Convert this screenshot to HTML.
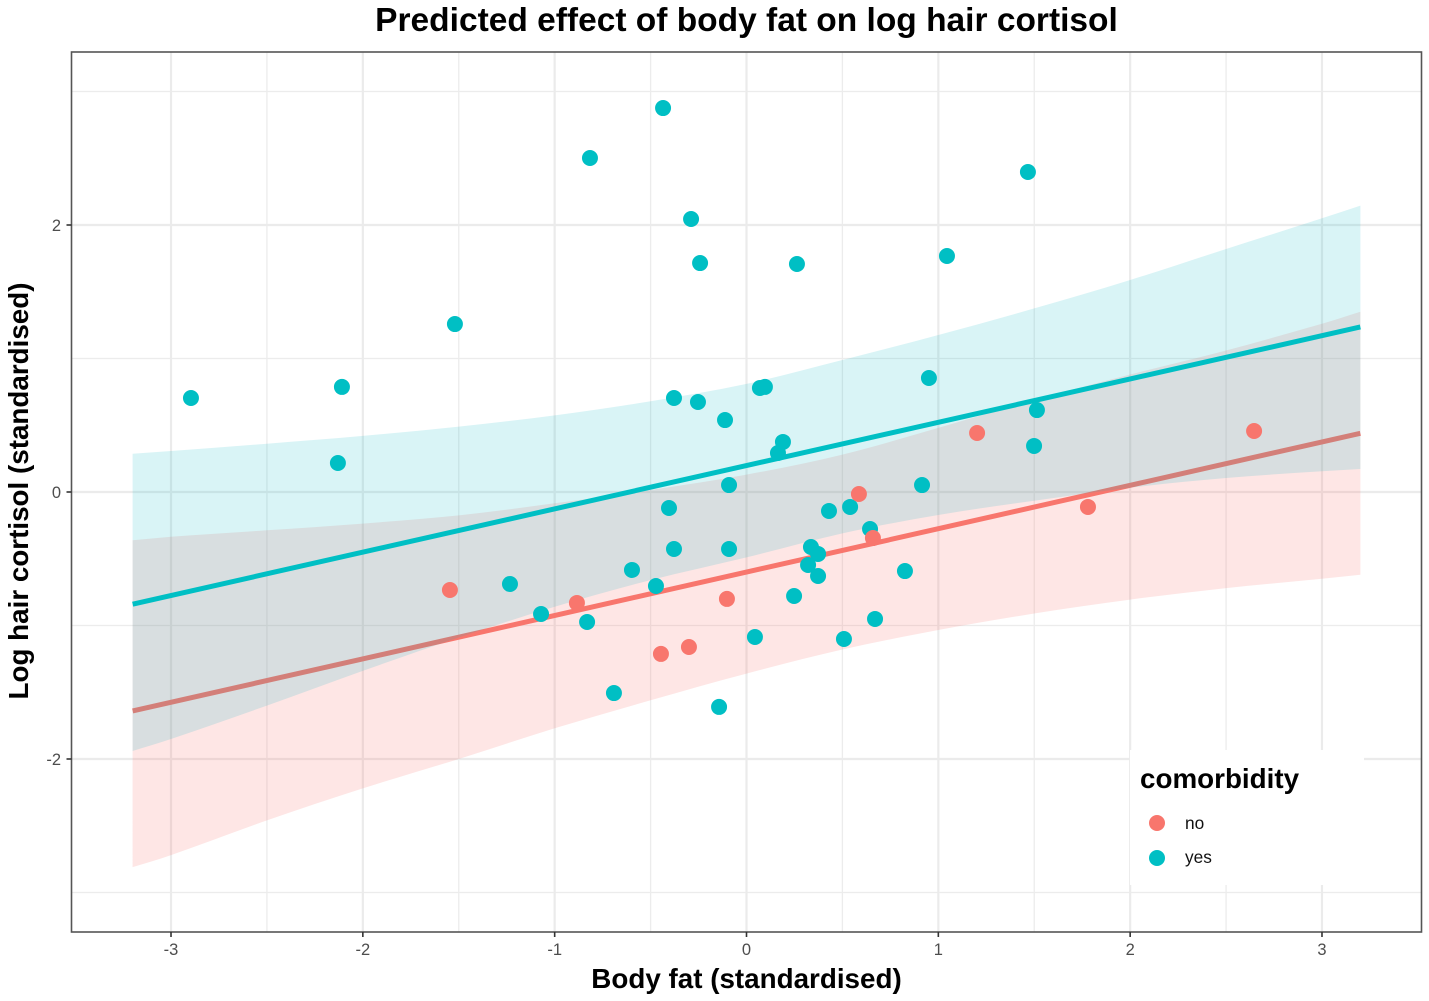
<!DOCTYPE html>
<html lang="en">
<head>
<meta charset="utf-8">
<title>Predicted effect of body fat on log hair cortisol</title>
<style>
html,body{margin:0;padding:0;background:#fff;}
svg{display:block;font-family:"Liberation Sans",sans-serif;}
</style>
</head>
<body>
<svg id="chart" xmlns="http://www.w3.org/2000/svg" width="1429" height="1001" viewBox="0 0 1429 1001">
  <rect x="0" y="0" width="1429" height="1001" fill="#ffffff"/>
  <g id="grid"></g>
  <g id="ribbons"></g>
  <g id="points"></g>
  <rect x="71.5" y="52" width="1350" height="880" fill="none" stroke="#555555" stroke-width="1.6"/>
  <g id="axes"></g>
  <text x="746.5" y="31" text-anchor="middle" font-size="33.5" font-weight="700" fill="#000">Predicted effect of body fat on log hair cortisol</text>
  <text x="746.5" y="988" text-anchor="middle" font-size="27.8" font-weight="700" fill="#000">Body fat (standardised)</text>
  <text transform="translate(28,491) rotate(-90)" text-anchor="middle" font-size="27.8" font-weight="700" fill="#000">Log hair cortisol (standardised)</text>
  <g>
    <rect x="1130" y="750" width="234" height="135" fill="#ffffff"/>
    <text x="1140" y="788" font-size="27.8" font-weight="700" fill="#000">comorbidity</text>
    <circle cx="1157" cy="823" r="8" fill="#F8766D"/>
    <text x="1185" y="829" font-size="17.3" fill="#111">no</text>
    <circle cx="1157" cy="858" r="8" fill="#00BFC4"/>
    <text x="1185" y="863" font-size="17.3" fill="#111">yes</text>
  </g>
</svg>
<script>
const xTicks = [-3, -2, -1, 0, 1, 2, 3];
const yTicks = [-2, 0, 2];
const xMinorTicks = [-2.5, -1.5, -0.5, 0.5, 1.5, 2.5];
const yMinorTicks = [-3, -1, 1, 3];

const bandX = [-3.2, -3, -2.5, -2, -1.5, -1, -0.5, 0, 0.5, 1, 1.5, 2, 2.5, 3, 3.2];
const yesUpper = [0.287, 0.307, 0.362, 0.42, 0.49, 0.574, 0.68, 0.81, 0.989, 1.176, 1.375, 1.588, 1.82, 2.05, 2.145];
const yesLower = [-1.94, -1.85, -1.6, -1.34, -1.09, -0.86, -0.66, -0.49, -0.31, -0.172, -0.065, 0.032, 0.105, 0.155, 0.172];
const noUpper = [-0.362, -0.335, -0.287, -0.237, -0.175, -0.085, 0.015, 0.13, 0.28, 0.48, 0.69, 0.88, 1.06, 1.26, 1.35];
const noLower = [-2.81, -2.72, -2.46, -2.22, -2.0, -1.77, -1.56, -1.36, -1.18, -1.034, -0.91, -0.806, -0.72, -0.65, -0.62];

const lineX = [-3.2, 3.2];
const yesLine = [-0.84, 1.236];
const noLine = [-1.64, 0.44];

const yesX = [-2.896, -2.109, -2.13, -1.52, -0.816, -0.435, -0.289, -0.242, 0.263, 1.045, 1.467, -0.378, -0.253, -0.112, 0.07, 0.096, 0.951, 1.514, 1.499, 0.19, 0.164, -0.091, 0.915, -0.404, 0.43, 0.54, 0.644, 0.336, 0.373, 0.321, 0.373, 0.826, -0.378, -0.091, -0.597, -1.233, -0.472, -1.071, -0.831, 0.248, 0.67, 0.044, 0.508, -0.691, -0.143];
const yesY = [0.704, 0.787, 0.217, 1.258, 2.502, 2.876, 2.045, 1.715, 1.708, 1.768, 2.397, 0.704, 0.674, 0.539, 0.779, 0.787, 0.854, 0.614, 0.345, 0.375, 0.292, 0.052, 0.052, -0.12, -0.142, -0.112, -0.277, -0.412, -0.464, -0.547, -0.629, -0.592, -0.427, -0.427, -0.584, -0.689, -0.704, -0.914, -0.974, -0.779, -0.951, -1.086, -1.101, -1.506, -1.61];
const noX = [-1.546, -0.884, -0.102, -0.446, -0.3, 0.586, 0.659, 1.202, 1.78, 2.646];
const noY = [-0.734, -0.831, -0.801, -1.213, -1.161, -0.015, -0.345, 0.442, -0.112, 0.457];

const SVG_NS = 'http://www.w3.org/2000/svg';
const panel = { left: 71.5, right: 1421.5, top: 52, bottom: 932 };
function xScale(v) { return 746.5 + v * 191.83; }
function yScale(v) { return 492 - v * 133.5; }
function make(tag, parent, attrs) {
  const el = document.createElementNS(SVG_NS, tag);
  Object.keys(attrs).forEach(function (k) { el.setAttribute(k, attrs[k]); });
  parent.appendChild(el);
  return el;
}
function curveSegments(xs, ys) {
  const px = xs.map(xScale);
  const py = ys.map(yScale);
  const n = px.length;
  const slope = px.map(function (_, i) {
    const a = Math.max(0, i - 1);
    const b = Math.min(n - 1, i + 1);
    return (py[b] - py[a]) / (px[b] - px[a]);
  });
  let d = '';
  for (let i = 0; i < n - 1; i++) {
    const h = (px[i + 1] - px[i]) / 3;
    d += 'C' + (px[i] + h).toFixed(1) + ' ' + (py[i] + slope[i] * h).toFixed(1) + ' ' +
      (px[i + 1] - h).toFixed(1) + ' ' + (py[i + 1] - slope[i + 1] * h).toFixed(1) + ' ' +
      px[i + 1].toFixed(1) + ' ' + py[i + 1].toFixed(1);
  }
  return d;
}
function bandPath(upper, lower) {
  const xsBack = bandX.slice().reverse();
  const lowerBack = lower.slice().reverse();
  return 'M' + xScale(bandX[0]).toFixed(1) + ' ' + yScale(upper[0]).toFixed(1) +
    curveSegments(bandX, upper) +
    'L' + xScale(xsBack[0]).toFixed(1) + ' ' + yScale(lowerBack[0]).toFixed(1) +
    curveSegments(xsBack, lowerBack) + 'Z';
}

const gridG = document.getElementById('grid');
const ribbonG = document.getElementById('ribbons');
const pointG = document.getElementById('points');
const axesG = document.getElementById('axes');

xMinorTicks.forEach(function (v) {
  const el = make('line', gridG, { x1: xScale(v), x2: xScale(v), y1: panel.top, y2: panel.bottom, stroke: '#ececec', 'stroke-width': 1.3 });
  
  
});
yMinorTicks.forEach(function (v) {
  const el = make('line', gridG, { x1: panel.left, x2: panel.right, y1: yScale(v), y2: yScale(v), stroke: '#ececec', 'stroke-width': 1.3 });
  
  
});
xTicks.forEach(function (v) {
  const el = make('line', gridG, { x1: xScale(v), x2: xScale(v), y1: panel.top, y2: panel.bottom, stroke: '#ebebeb', 'stroke-width': 2.2 });
  
  
  const tick = make('line', axesG, { x1: xScale(v), x2: xScale(v), y1: panel.bottom, y2: panel.bottom + 5, stroke: '#333333', 'stroke-width': 1.6 });
  
  
  const label = make('text', axesG, { x: xScale(v), y: 955, 'text-anchor': 'middle', 'font-size': 16.5, fill: '#4d4d4d' });
  
  
  label.textContent = String(v);
});
yTicks.forEach(function (v) {
  const el = make('line', gridG, { x1: panel.left, x2: panel.right, y1: yScale(v), y2: yScale(v), stroke: '#ebebeb', 'stroke-width': 2.2 });
  
  
  const tick = make('line', axesG, { x1: panel.left - 5, x2: panel.left, y1: yScale(v), y2: yScale(v), stroke: '#333333', 'stroke-width': 1.6 });
  
  
  const label = make('text', axesG, { x: 61, y: yScale(v) + 6, 'text-anchor': 'end', 'font-size': 16.5, fill: '#4d4d4d' });
  
  
  label.textContent = String(v);
});

const noBand = make('path', ribbonG, { d: bandPath(noUpper, noLower), fill: '#F8766D', 'fill-opacity': 0.18 });



const noTrend = make('line', ribbonG, { x1: xScale(lineX[0]), y1: yScale(noLine[0]), x2: xScale(lineX[1]), y2: yScale(noLine[1]), stroke: '#F8766D', 'stroke-width': 5 });



const yesBand = make('path', ribbonG, { d: bandPath(yesUpper, yesLower), fill: '#00B4C4', 'fill-opacity': 0.15 });



const yesTrend = make('line', ribbonG, { x1: xScale(lineX[0]), y1: yScale(yesLine[0]), x2: xScale(lineX[1]), y2: yScale(yesLine[1]), stroke: '#00BFC4', 'stroke-width': 5 });



yesX.forEach(function (x, i) {
  const dot = make('circle', pointG, { cx: xScale(x), cy: yScale(yesY[i]), r: 8, fill: '#00BFC4' });
  
  
});
noX.forEach(function (x, i) {
  const dot = make('circle', pointG, { cx: xScale(x), cy: yScale(noY[i]), r: 8, fill: '#F8766D' });
  
  
});
</script>
</body>
</html>
